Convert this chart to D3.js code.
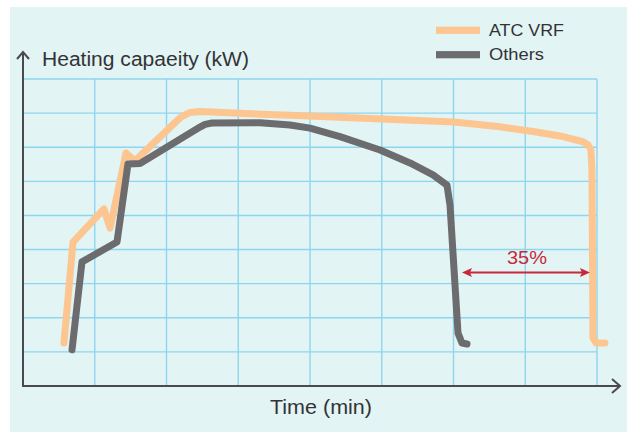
<!DOCTYPE html>
<html>
<head>
<meta charset="utf-8">
<script src="https://cdn.jsdelivr.net/npm/d3@7"></script>
<style>
  html, body { margin: 0; padding: 0; background: #ffffff; }
  svg { display: block; }
  text { font-family: "Liberation Sans", Arial, sans-serif; }
</style>
</head>
<body>
<svg id="chart" width="627" height="432"></svg>
<script>
// ---- data (time in grid units, capacity in grid units) ----
const atcTime = [0.571, 0.697, 1.129, 1.213, 1.436, 1.561, 2.188, 2.258, 2.328, 2.467, 3.303, 3.721, 5.0, 6.007, 6.648, 7.108, 7.484, 7.805, 7.875, 7.916, 7.930, 7.944, 7.986, 8.111];
const atcCap  = [1.26, 4.22, 5.19, 4.63, 6.83, 6.60, 7.86, 7.95, 8.02, 8.05, 7.97, 7.94, 7.83, 7.74, 7.60, 7.46, 7.33, 7.16, 7.07, 6.92, 6.33, 1.41, 1.26, 1.26];

const othersTime = [0.683, 0.822, 1.310, 1.463, 1.631, 2.467, 2.537, 2.634, 3.303, 3.721, 4.0, 4.418, 4.976, 5.394, 5.714, 5.909, 5.951, 6.063, 6.118, 6.188];
const othersCap  = [1.06, 3.64, 4.22, 6.51, 6.52, 7.59, 7.67, 7.71, 7.72, 7.65, 7.56, 7.31, 6.92, 6.54, 6.19, 5.89, 5.31, 1.55, 1.26, 1.23];

const xGridTicks = [1, 2, 3, 4, 5, 6, 7, 8];
const yGridTicks = [1, 2, 3, 4, 5, 6, 7, 8, 9];

const seriesNames = ["ATC VRF", "Others"];
const seriesColors = ["#fdc590", "#6c6c6f"];

const yTitle = "Heating capaeity (kW)";
const xTitle = "Time (min)";

// annotation
const annoLabel = "35%";
const annoFrom = 6.118, annoTo = 7.902, annoLevel = 3.33;

// ---- drawing ----
const svg = d3.select("#chart");
const x = d3.scaleLinear().domain([0, 8]).range([23, 597]);
const y = d3.scaleLinear().domain([0, 9]).range([386, 79]);

// panel background
svg.append("rect").attr("x", 10).attr("y", 7).attr("width", 617).attr("height", 425).attr("fill", "#e2f4f4");

// grid
const grid = svg.append("g").attr("stroke", "#8dd6ef").attr("stroke-width", 1.4);
grid.selectAll("line.v").data(xGridTicks).enter().append("line")
  .attr("x1", d => x(d)).attr("x2", d => x(d))
  .attr("y1", y(0)).attr("y2", y(9));
grid.selectAll("line.h").data(yGridTicks).enter().append("line")
  .attr("x1", x(0)).attr("x2", x(8))
  .attr("y1", d => y(d)).attr("y2", d => y(d));

// axes
const axisColor = "#4a4a4c";
svg.append("line").attr("x1", x(0)).attr("x2", 620).attr("y1", y(0)).attr("y2", y(0))
  .attr("stroke", axisColor).attr("stroke-width", 2);
svg.append("line").attr("x1", x(0)).attr("x2", x(0)).attr("y1", y(0) + 1).attr("y2", 52)
  .attr("stroke", axisColor).attr("stroke-width", 2);
// arrow heads (open chevrons)
svg.append("path").attr("d", `M612,${y(0) - 7} L620,${y(0)} L612,${y(0) + 7}`)
  .attr("fill", "none").attr("stroke", axisColor).attr("stroke-width", 2);
svg.append("path").attr("d", `M${x(0) - 6},59 L${x(0)},52 L${x(0) + 6},59`)
  .attr("fill", "none").attr("stroke", axisColor).attr("stroke-width", 2);

// lines
const line = d3.line().x(d => x(d[0])).y(d => y(d[1])).curve(d3.curveLinear);
const atcData = atcTime.map((t, i) => [t, atcCap[i]]);
const othersData = othersTime.map((t, i) => [t, othersCap[i]]);

svg.append("path").datum(atcData).attr("d", line)
  .attr("fill", "none").attr("stroke", seriesColors[0]).attr("stroke-width", 7)
  .attr("stroke-linejoin", "round").attr("stroke-linecap", "round");
svg.append("path").datum(othersData).attr("d", line)
  .attr("fill", "none").attr("stroke", seriesColors[1]).attr("stroke-width", 7)
  .attr("stroke-linejoin", "round").attr("stroke-linecap", "round");

// annotation arrow
const red = "#c7293b";
const ay = y(annoLevel);
const ax1 = x(annoFrom), ax2 = x(annoTo);
svg.append("line").attr("x1", ax1 + 6).attr("x2", ax2 - 6).attr("y1", ay).attr("y2", ay)
  .attr("stroke", red).attr("stroke-width", 2);
svg.append("path").attr("d", `M${ax1},${ay} L${ax1 + 10},${ay - 4.5} L${ax1 + 8},${ay} L${ax1 + 10},${ay + 4.5} Z`).attr("fill", red);
svg.append("path").attr("d", `M${ax2},${ay} L${ax2 - 10},${ay - 4.5} L${ax2 - 8},${ay} L${ax2 - 10},${ay + 4.5} Z`).attr("fill", red);
svg.append("text").attr("x", (ax1 + ax2) / 2 + 1).attr("y", 263.5).attr("text-anchor", "middle")
  .attr("font-size", 19).attr("fill", red)
  .attr("textLength", 40).attr("lengthAdjust", "spacingAndGlyphs").text(annoLabel);

// titles
svg.append("text").attr("x", 42).attr("y", 66).attr("font-size", 19.5).attr("fill", "#333336")
  .attr("textLength", 207).attr("lengthAdjust", "spacingAndGlyphs").text(yTitle);
svg.append("text").attr("x", 270).attr("y", 413.5).attr("font-size", 20.5).attr("fill", "#333336")
  .attr("textLength", 102).attr("lengthAdjust", "spacingAndGlyphs").text(xTitle);

// legend
const legend = svg.append("g");
const legendY = [30.3, 54.7];
const legendW = [75, 55];
seriesNames.forEach((name, i) => {
  legend.append("rect").attr("x", 436).attr("y", legendY[i] - 3.6).attr("width", 44).attr("height", 7.2)
    .attr("fill", seriesColors[i]);
  legend.append("text").attr("x", 489).attr("y", legendY[i] + 5.6).attr("font-size", 17)
    .attr("fill", "#333336").attr("textLength", legendW[i]).attr("lengthAdjust", "spacingAndGlyphs").text(name);
});
</script>
</body>
</html>
